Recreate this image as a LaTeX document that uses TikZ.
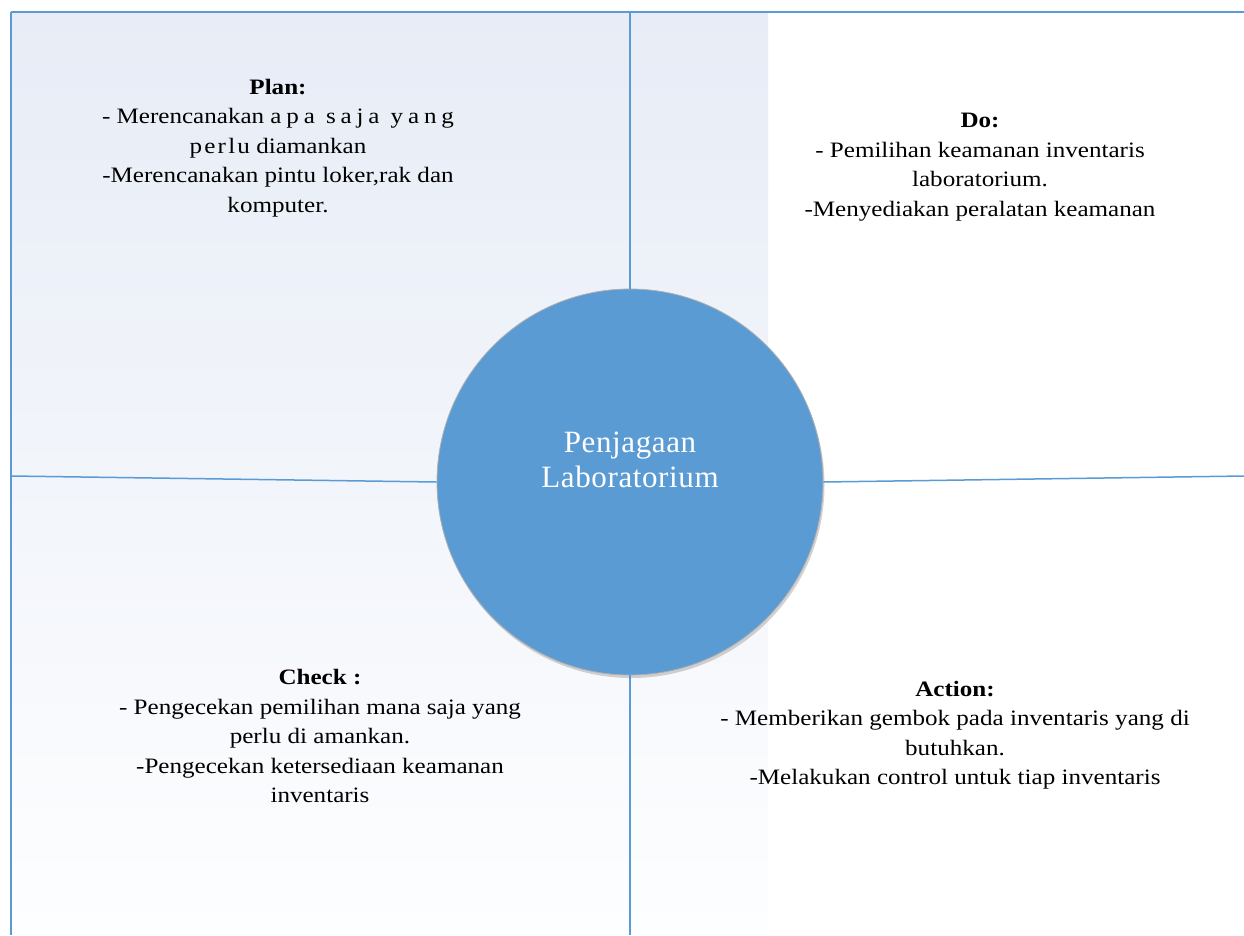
\documentclass[tikz,border=0pt]{standalone}
\usepackage{fontspec}
\setmainfont{Liberation Serif}
\usetikzlibrary{shadows}
\definecolor{lineblue}{RGB}{91,155,213}
\definecolor{circblue}{RGB}{91,155,211}
\definecolor{circedge}{RGB}{175,175,175}
\definecolor{bgtop}{RGB}{231,236,246}
\definecolor{bgbot}{RGB}{253,254,255}
\newcommand{\spacedtxt}[2]{{\addfontfeature{LetterSpace=#1}#2}}
\tikzset{
  gridline/.style={draw=lineblue, line width=1.5pt},
  quadtext/.style={align=center, font=\fontsize{22}{29.5}\selectfont\addfontfeature{FakeStretch=1.14},
    text=black, inner sep=0pt},
  hub/.style={circle, fill=circblue, draw=circedge, line width=0.8pt,
    minimum size=386pt, inner sep=0pt,
    drop shadow={opacity=0.35, shadow xshift=1.5pt, shadow yshift=-3pt}},
  hubtext/.style={text=white, align=center, inner sep=0pt,
    font=\fontsize{31}{35}\selectfont\addfontfeature{LetterSpace=2}}
}
\begin{document}
\begin{tikzpicture}[x=1pt,y=-1pt]
\useasboundingbox (0,0) rectangle (1244,935);
\fill[white] (0,0) rectangle (1244,935);
\shade[top color=bgtop, bottom color=bgbot] (11,12) rectangle (768,935);

\coordinate (tl) at (11,12);
\coordinate (tr) at (1244,12);
\coordinate (bl) at (11,935);
\coordinate (mt) at (630,12);
\coordinate (mb) at (630,935);
\coordinate (ml) at (11,476);
\coordinate (mr) at (1244,476);

\node[hub] (c) at (630,482) {};
\node[hubtext] (ctext) at (630,460) {Penjagaan\\Laboratorium};

\draw[gridline] (tl) -- (tr);
\draw[gridline] (tl) -- (bl);
\draw[gridline] (mt) -- (c.north);
\draw[gridline] (c.south) -- (mb);
\draw[gridline] (ml) -- (c.west);
\draw[gridline] (c.east) -- (mr);

\node[quadtext] (plan) at (278,148) {\textbf{Plan:}\\- Merencanakan \spacedtxt{22}{apa saja yang}\\\spacedtxt{10}{perlu} diamankan\\-Merencanakan pintu loker,rak dan\\komputer.};
\node[quadtext] (do) at (980,167) {\textbf{Do:}\\- Pemilihan keamanan inventaris\\laboratorium.\\-Menyediakan peralatan keamanan};
\node[quadtext] (check) at (320,736) {\textbf{Check :}\\- Pengecekan pemilihan mana saja yang\\perlu di amankan.\\-Pengecekan ketersediaan keamanan\\inventaris};
\node[quadtext] (action) at (955,735) {\textbf{Action:}\\- Memberikan gembok pada inventaris yang di\\butuhkan.\\-Melakukan control untuk tiap inventaris};
\end{tikzpicture}
\end{document}
